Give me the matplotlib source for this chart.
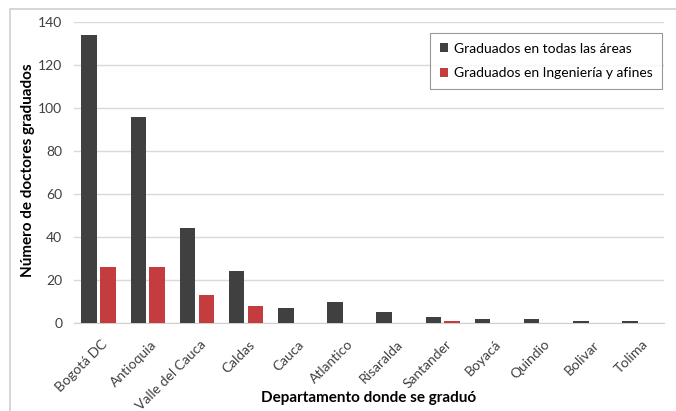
import matplotlib.pyplot as plt
import numpy as np
from matplotlib.patches import Rectangle

departamentos = ["Bogotá DC", "Antioquia", "Valle del Cauca", "Caldas", "Cauca",
                 "Atlantico", "Risaralda", "Santander", "Boyacá", "Quindio",
                 "Bolivar", "Tolima"]
todas_areas = [134, 96, 44, 24, 7, 10, 5, 3, 2, 2, 1, 1]
ingenieria = [26, 26, 13, 8, 0, 0, 0, 1, 0, 0, 0, 0]

plt.rcParams["font.family"] = ["Lato", "DejaVu Sans"]

fig = plt.figure(figsize=(6.76, 4.11), dpi=100)
# marco exterior del grafico (solo se ven borde izquierdo y superior)
fig.patches.append(Rectangle((10 / 676, -0.1), 1.2, 1 - 9 / 411 + 0.1,
                             transform=fig.transFigure, fill=False,
                             edgecolor="#d0d0d0", linewidth=1.2))

ax = fig.add_axes([74 / 676, 1 - 323 / 411, 590 / 676, 301 / 411])

x = np.arange(len(departamentos))
w = 0.315
ax.bar(x - 0.19, todas_areas, w, color="#404040", label="Graduados en todas las áreas", zorder=3)
ax.bar(x + 0.19, ingenieria, w, color="#c43c3e", label="Graduados en Ingeniería y afines", zorder=3)

ax.set_xlim(-0.5, len(departamentos) - 0.5)
ax.set_ylim(0, 140)
ax.set_yticks(range(0, 141, 20))
ax.yaxis.grid(True, color="#d9d9d9", linewidth=1, zorder=0)
for s in ["top", "right", "left"]:
    ax.spines[s].set_visible(False)
ax.spines["bottom"].set_color("#d0d0d0")
ax.tick_params(axis="both", length=0, labelsize=10, colors="#404040")
ax.tick_params(axis="y", pad=8.5)
ax.set_xticks(x + 0.05)
ax.set_xticklabels(departamentos, rotation=45, ha="right", rotation_mode="anchor")
ax.tick_params(axis="x", pad=11)

ax.set_ylabel("Número de doctores graduados", fontsize=11, fontweight="bold")
ax.yaxis.set_label_coords(-0.078, 0.508)
ax.set_xlabel("Departamento donde se graduó", fontsize=11, fontweight="bold")
ax.xaxis.set_label_coords(0.50, -0.249)
ax.xaxis.label.set_va("center")
ax.yaxis.label.set_va("center")

leg = ax.legend(loc="upper right", bbox_to_anchor=(588 / 590, 1 - 11 / 301), fontsize=10,
                frameon=True, fancybox=False, handlelength=0.6, handleheight=0.6,
                handletextpad=0.4, labelspacing=0.9, borderpad=0.7, borderaxespad=0)
leg.get_frame().set_edgecolor("#7f7f7f")
leg.get_frame().set_linewidth(0.8)

fig.savefig("out.png", dpi=100)
